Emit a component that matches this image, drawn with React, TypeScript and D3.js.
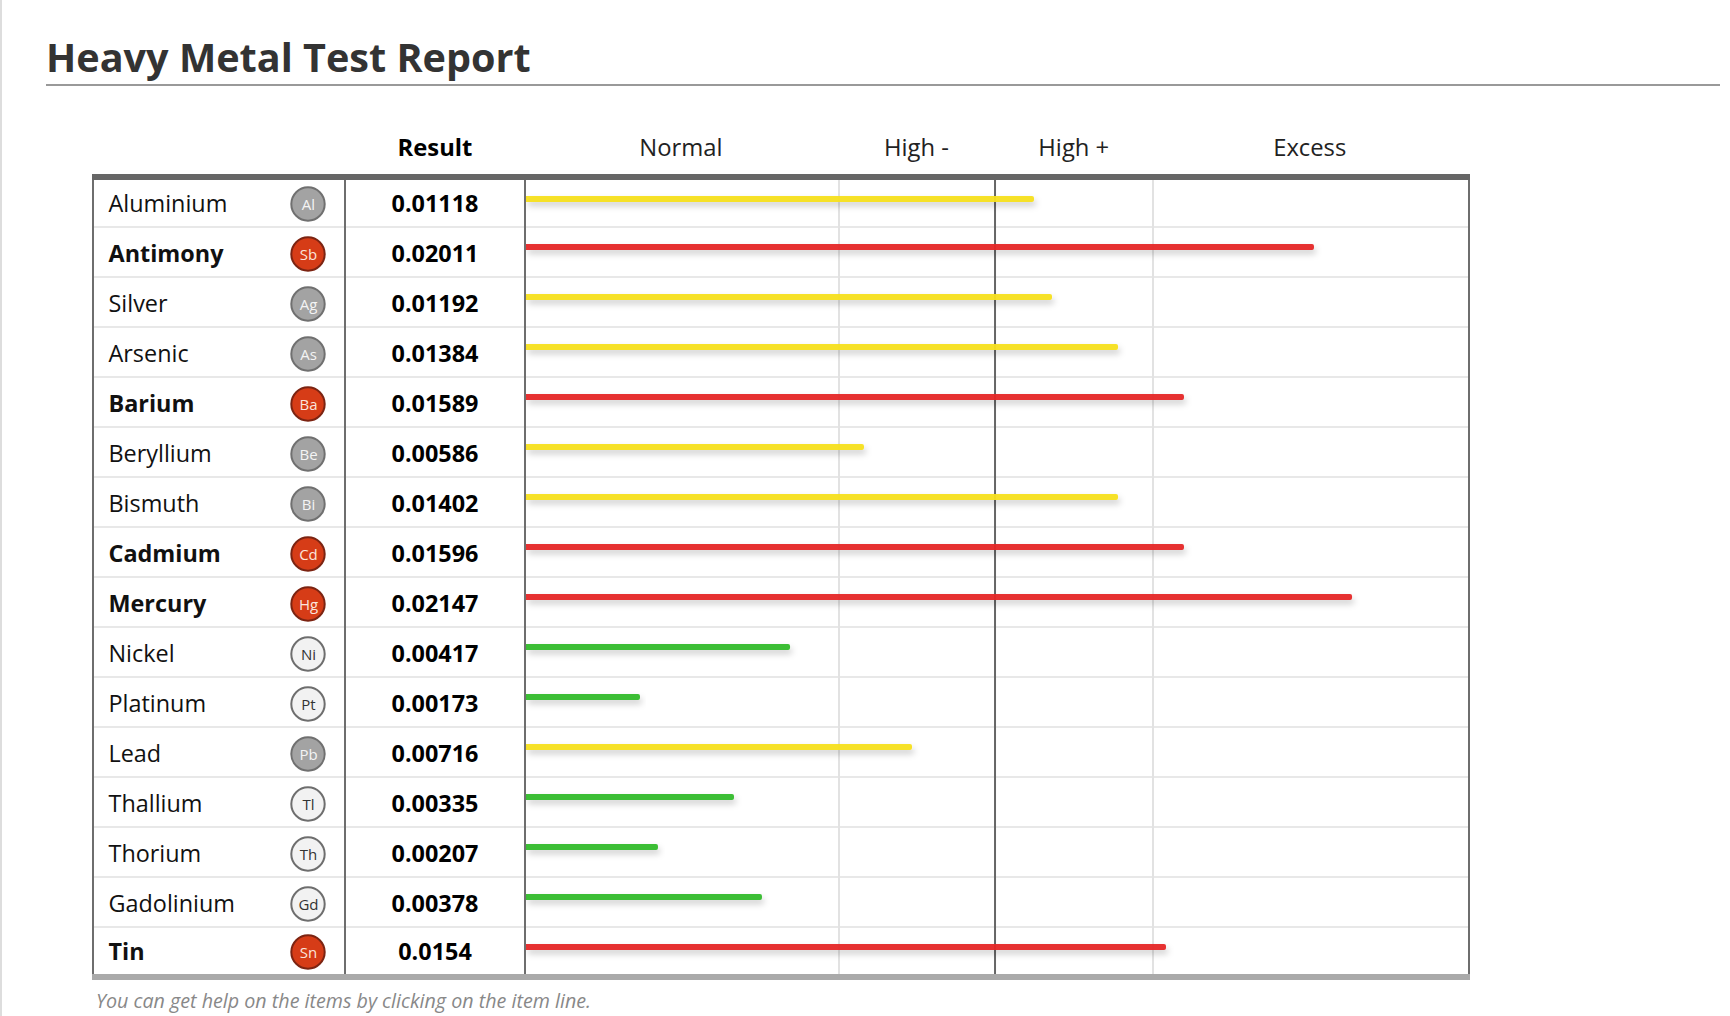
import React from "react";
import * as d3 from "d3";

const names = ["Aluminium","Antimony","Silver","Arsenic","Barium","Beryllium","Bismuth","Cadmium","Mercury","Nickel","Platinum","Lead","Thallium","Thorium","Gadolinium","Tin"];
const symbols = ["Al","Sb","Ag","As","Ba","Be","Bi","Cd","Hg","Ni","Pt","Pb","Tl","Th","Gd","Sn"];
const results = ["0.01118","0.02011","0.01192","0.01384","0.01589","0.00586","0.01402","0.01596","0.02147","0.00417","0.00173","0.00716","0.00335","0.00207","0.00378","0.0154"];
// Bar length as a percentage of the graph column width
const barLevels = [53.93,83.65,55.84,62.85,69.85,35.88,62.85,69.85,87.69,28.03,12.10,40.98,22.08,14.01,25.05,67.94];
// 0 = normal (green), 1 = high (yellow), 2 = excess (red)
const statuses = [1,2,1,1,2,1,1,2,2,0,0,1,0,0,0,2];
const bandHeaders = ["Normal","High -","High +","Excess"];
const bandHeaderLevels = [16.45,41.45,58.15,83.2];
const gridLevels = [33.23,66.56];
const midLevel = 49.79;

const barColors = ["#34bb2b","#f7e01f","#e52828"];
const circleFill = ["#f2f2f2","#a3a3a3","#d63c17"];
const circleStroke = ["#6e6e6e","#707070","#7c2412"];
const circleText = ["#333333","#f4f4f4","#fbe4dc"];

const FONT = "'Open Sans', sans-serif";
const x = d3.scaleLinear().domain([0,100]).range([526,1468]);
const y = d3.scaleLinear().domain([0,15]).range([204,954]);
const cy = (i: number) => (i === 15 ? y(i) - 2 : y(i));
const barTop = (i: number) => (i === 0 ? y(i) - 8 : y(i) - 10);

function barPath(v: number, i: number) {
  const x0 = x(0), x1 = x(v), t = barTop(i), h = 6, r = 2;
  const p = d3.path();
  p.moveTo(x0, t);
  p.lineTo(x1 - r, t);
  p.arcTo(x1, t, x1, t + r, r);
  p.lineTo(x1, t + h - r);
  p.arcTo(x1, t + h, x1 - r, t + h, r);
  p.lineTo(x0, t + h);
  p.closePath();
  return p.toString();
}

export default function App() {
  return (
    <svg width={1730} height={1016} viewBox="0 0 1730 1016"
      style={{ position: "fixed", left: 0, top: 0, background: "#fff", fontFamily: FONT }}>
      <defs>
        <filter id="barShadow" x="-5%" y="-300%" width="110%" height="800%">
          <feDropShadow dx="2" dy="4" stdDeviation="3" floodColor="#000" floodOpacity="0.2" />
        </filter>
      </defs>
      <rect x={0} y={0} width={2} height={1016} fill="#dddddd" />
      <text x={46} y={71.5} fontSize={39.6} fontWeight={700} fill="#333333">Heavy Metal Test Report</text>
      <rect x={46} y={84} width={1674} height={2} fill="#999999" />

      <text x={435} y={156} textAnchor="middle" fontSize={23.8} fontWeight={700} fill="#000">Result</text>
      {bandHeaders.map((h, i) => (
        <text key={h} x={x(bandHeaderLevels[i])} y={156} textAnchor="middle" fontSize={23.8} fill="#222">{h}</text>
      ))}

      {names.slice(0, 15).map((n, i) => (
        <rect key={n} x={94} y={y(i) + 22} width={1374} height={2} fill="#e8e8e8" />
      ))}
      {gridLevels.map((g) => (
        <line key={g} x1={x(g)} x2={x(g)} y1={180} y2={974} stroke="#e2e2e2" strokeWidth={2} />
      ))}
      <line x1={x(midLevel)} x2={x(midLevel)} y1={180} y2={974} stroke="#666666" strokeWidth={2} />

      {barLevels.map((v, i) => (
        <path key={names[i]} d={barPath(v, i)} fill={barColors[statuses[i]]} fillOpacity={0.95} filter="url(#barShadow)" />
      ))}

      {[93, 345, 525, 1469].map((vx) => (
        <line key={vx} x1={vx} x2={vx} y1={174} y2={980} stroke="#6e6e6e" strokeWidth={2} />
      ))}
      <rect x={92} y={174} width={1378} height={6} fill="#666666" />
      <rect x={92} y={974} width={1378} height={6} fill="#aaaaaa" />

      {names.map((n, i) => {
        const s = statuses[i];
        const bold = s === 2;
        return (
          <g key={n}>
            <text x={108.5} y={cy(i) + 8} fontSize={23.4} fontWeight={bold ? 700 : 400} fill="#111">{n}</text>
            <circle cx={308} cy={cy(i)} r={16.7} fill={circleFill[s]} stroke={circleStroke[s]} strokeWidth={2} />
            <text x={308.5} y={cy(i) + 5.5} textAnchor="middle" fontSize={15} fill={circleText[s]}>{symbols[i]}</text>
            <text x={435} y={cy(i) + 8} textAnchor="middle" fontSize={23.4} fontWeight={700} fill="#000">{results[i]}</text>
          </g>
        );
      })}

      <text x={96} y={1008} fontSize={19.7} fontStyle="italic" fill="#888888">You can get help on the items by clicking on the item line.</text>
    </svg>
  );
}
